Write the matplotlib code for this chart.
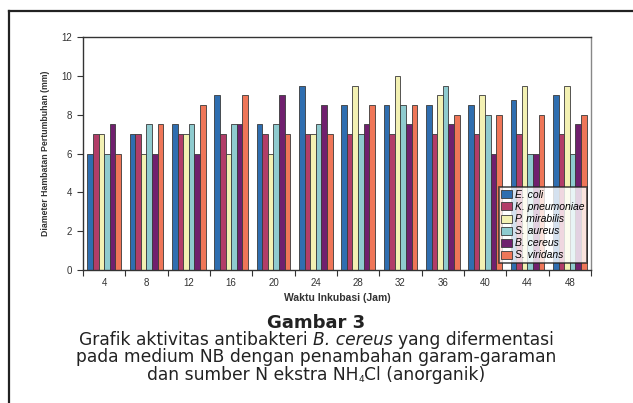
import numpy as np
import matplotlib.pyplot as plt
from matplotlib.lines import Line2D

plt.rcParams['font.family'] = ['Liberation Sans', 'DejaVu Sans']

# waktu inkubasi (jam)
hours = [4, 8, 12, 16, 20, 24, 28, 32, 36, 40, 44, 48]
bacteria = ['E. coli', 'K. pneumoniae', 'P. mirabilis', 'S. aureus', 'B. cereus', 'S. viridans']
e_coli = [6, 7, 7.5, 9, 7.5, 9.5, 8.5, 8.5, 8.5, 8.5, 8.75, 9]
k_pneumoniae = [7, 7, 7, 7, 7, 7, 7, 7, 7, 7, 7, 7]
p_mirabilis = [7, 6, 7, 6, 6, 7, 9.5, 10, 9, 9, 9.5, 9.5]
s_aureus = [6, 7.5, 7.5, 7.5, 7.5, 7.5, 7, 8.5, 9.5, 8, 6, 6]
b_cereus = [7.5, 6, 6, 7.5, 9, 8.5, 7.5, 7.5, 7.5, 6, 6, 7.5]
s_viridans = [6, 7.5, 8.5, 9, 7, 7, 8.5, 8.5, 8, 8, 8, 8]
series = [e_coli, k_pneumoniae, p_mirabilis, s_aureus, b_cereus, s_viridans]
colors = ['#2f6eb0', '#b23d68', '#f3f1b3', '#8fcbcf', '#70206e', '#ef7658']

fig = plt.figure(figsize=(6.33, 4.03), dpi=100)
ax = fig.add_axes([0.1311, 0.330, 0.8025, 0.578])

x = np.arange(len(hours))
w = 1 / 7.5
for i, (vals, c) in enumerate(zip(series, colors)):
    ax.bar(x + (i - 2.5) * w, vals, w, color=c, edgecolor='#3a3a3a',
           linewidth=0.6, label=bacteria[i])

ax.set_xlim(-0.5, len(hours) - 0.5)
ax.set_ylim(0, 12)
ax.set_yticks(range(0, 13, 2))
ax.set_xticks(x)
ax.set_xticklabels(hours)
ax.set_xticks(np.arange(-0.5, len(hours), 1), minor=True)
ax.tick_params(axis='x', which='major', length=0, pad=6, labelsize=7, labelcolor='#333333')
ax.tick_params(axis='x', which='minor', length=4, width=0.8, direction='out', color='#333333')
ax.tick_params(axis='y', length=4, width=0.8, direction='out', labelsize=7,
               labelcolor='#333333', color='#333333', pad=4)
for s in ax.spines.values():
    s.set_color('#333333')
    s.set_linewidth(1.0)
ax.spines['right'].set_color('#888888')

ax.set_xlabel('Waktu Inkubasi (Jam)', fontsize=7.5, fontweight='bold', color='#333333', labelpad=3)
ax.set_ylabel('Diameter Hambatan Pertumbuhan (mm)', fontsize=6.3, fontweight='bold',
              color='#333333', labelpad=8)

leg = ax.legend(loc='lower right', bbox_to_anchor=(0.992, 0.03),
                prop={'style': 'italic', 'size': 7.5}, frameon=True, fancybox=False,
                borderpad=0.25, labelspacing=0.2, handlelength=1.0, handleheight=0.8,
                handletextpad=0.3, borderaxespad=0)
leg.get_frame().set_edgecolor('#222222')
leg.get_frame().set_linewidth(1.2)

# caption
cap_font = 'DejaVu Sans'
cap_size = 12.3
fig.text(0.5, 0.198, 'Gambar 3', ha='center', va='center', fontsize=13,
         fontweight='bold', color='#222222', family=cap_font)

renderer = fig.canvas.get_renderer()


def width_of(t):
    return t.get_window_extent(renderer).width / fig.bbox.width


def caption_line(y, pieces):
    # pieces: (text, style, size, dy, space after)
    probe = fig.text(0, 0, 'a a', fontsize=cap_size, family=cap_font)
    probe2 = fig.text(0, 0, 'aa', fontsize=cap_size, family=cap_font)
    space = width_of(probe) - width_of(probe2)
    probe.remove()
    probe2.remove()
    texts = []
    total = 0
    for txt, style, size, dy, gap in pieces:
        t = fig.text(0, y + dy, txt, fontsize=size, style=style, va='center',
                     color='#222222', family=cap_font)
        texts.append((t, gap))
        total += width_of(t) + (space if gap else 0)
    xpos = 0.5 - total / 2
    for t, gap in texts:
        t.set_x(xpos)
        xpos += width_of(t) + (space if gap else 0)


caption_line(0.156, [('Grafik aktivitas antibakteri', 'normal', cap_size, 0, True),
                     ('B. cereus', 'italic', cap_size, 0, True),
                     ('yang difermentasi', 'normal', cap_size, 0, False)])
caption_line(0.113, [('pada medium NB dengan penambahan garam-garaman', 'normal', cap_size, 0, False)])
caption_line(0.070, [('dan sumber N ekstra NH', 'normal', cap_size, 0, False),
                     ('4', 'normal', 6.5, -0.012, False),
                     ('Cl (anorganik)', 'normal', cap_size, 0, False)])

# outer frame
fig.add_artist(Line2D([0.0135, 0.0135], [0, 0.973], transform=fig.transFigure,
                      color='#222222', linewidth=1.6))
fig.add_artist(Line2D([0.0135, 1.0], [0.973, 0.973], transform=fig.transFigure,
                      color='#222222', linewidth=1.6))

fig.savefig('out.png', dpi=100)
